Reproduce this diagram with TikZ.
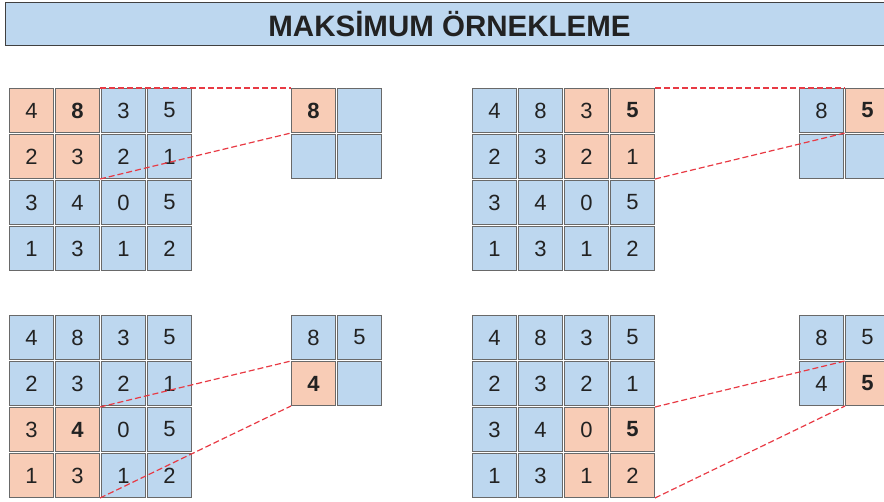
\documentclass[tikz,border=0pt]{standalone}
\usepackage{fontspec}
\setmainfont{Liberation Sans}
\definecolor{cblue}{RGB}{189,215,239}
\definecolor{csalmon}{RGB}{248,204,182}
\definecolor{cborder}{RGB}{105,105,105}
\definecolor{cred}{RGB}{232,58,68}
\definecolor{ctext}{RGB}{34,34,34}
\newcommand\maxgrid[7]{%
  \foreach \r/\row in {1/{4,8,3,5},2/{2,3,2,1},3/{3,4,0,5},4/{1,3,1,2}} {
    \foreach \v [count=\c] in \row {
      \pgfmathtruncatemacro\hit{((\r>=#4)&&(\r<=#4+1)&&(\c>=#5)&&(\c<=#5+1))?1:0}
      \pgfmathtruncatemacro\bld{((\r==#6)&&(\c==#7))?1:0}
      \ifnum\hit=1 \def\fillc{csalmon}\else\def\fillc{cblue}\fi
      \node[cell, fill=\fillc] (#1-\r-\c) at ({#2+(\c-1)*46},{#3+(\r-1)*46})
        {\ifnum\bld=1 \bfseries\fi\v};
    }
  }%
}
\begin{document}
\begin{tikzpicture}[x=1pt,y=-1pt,
  cell/.style={draw=cborder, line width=1pt, fill=cblue, minimum size=44pt,
    inner sep=0pt, anchor=north west, text=ctext,
    font=\fontsize{22}{22}\selectfont},
  hl/.style={fill=csalmon},
  link/.style={draw=cred, dash pattern=on 6pt off 3pt, line width=1.2pt},
  titlebox/.style={draw=black!75, line width=1pt, fill=cblue, anchor=north west,
    minimum width=888pt, minimum height=43pt, inner sep=0pt, text=ctext,
    font=\fontsize{29.5}{29.5}\selectfont\bfseries}]
\useasboundingbox (0,0) rectangle (884,502);
\node[titlebox] (title) at (5,2) {MAKSİMUM ÖRNEKLEME};

\maxgrid{g1}{9}{88}{1}{1}{1}{2}
\maxgrid{g2}{472}{88}{1}{3}{1}{4}
\maxgrid{g3}{9}{315}{3}{1}{3}{2}
\maxgrid{g4}{472}{315}{3}{3}{3}{4}

% output 1
\node[cell, hl] (o1-1-1) at (291,88) {\bfseries 8};
\node[cell] (o1-1-2) at (337,88) {};
\node[cell] (o1-2-1) at (291,134) {};
\node[cell] (o1-2-2) at (337,134) {};
% output 2
\node[cell] (o2-1-1) at (799,88) {8};
\node[cell, hl] (o2-1-2) at (845,88) {\bfseries 5};
\node[cell] (o2-2-1) at (799,134) {};
\node[cell] (o2-2-2) at (845,134) {};
% output 3
\node[cell] (o3-1-1) at (291,315) {8};
\node[cell] (o3-1-2) at (337,315) {5};
\node[cell, hl] (o3-2-1) at (291,361) {\bfseries 4};
\node[cell] (o3-2-2) at (337,361) {};
% output 4
\node[cell] (o4-1-1) at (799,315) {8};
\node[cell] (o4-1-2) at (845,315) {5};
\node[cell] (o4-2-1) at (799,361) {4};
\node[cell, hl] (o4-2-2) at (845,361) {\bfseries 5};

\draw[link] (g1-1-2.north east) -- (o1-1-1.north west);
\draw[link] (g1-2-2.south east) -- (o1-1-1.south west);
\draw[link] (g2-1-4.north east) -- (o2-1-2.north west);
\draw[link] (g2-2-4.south east) -- (o2-1-2.south west);
\draw[link] (g3-3-2.north east) -- (o3-2-1.north west);
\draw[link] (g3-4-2.south east) -- (o3-2-1.south west);
\draw[link] (g4-3-4.north east) -- (o4-2-2.north west);
\draw[link] (g4-4-4.south east) -- (o4-2-2.south west);
\end{tikzpicture}
\end{document}
